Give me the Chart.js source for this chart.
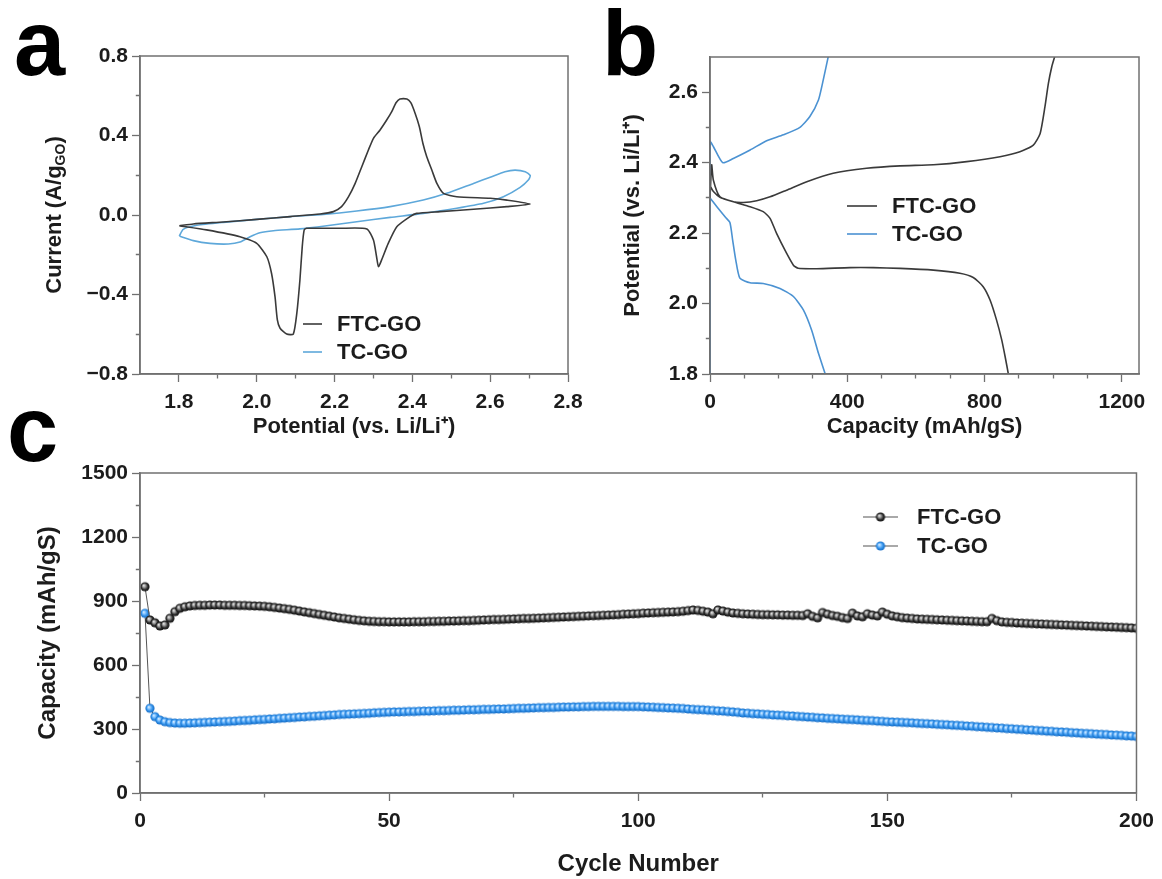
<!DOCTYPE html>
<html>
<head>
<meta charset="utf-8">
<title>FTC-GO vs TC-GO</title>
<script src="https://cdn.jsdelivr.net/npm/chart.js@4.4.1/dist/chart.umd.min.js"></script>
<style>
  html, body { margin:0; padding:0; background:#ffffff; width:1162px; height:879px; overflow:hidden; }
  canvas { position:absolute; }
</style>
</head>
<body>
<canvas id="cvChart" width="600" height="440" style="left:0;top:0;width:600px;height:440px"></canvas>
<canvas id="gcdChart" width="582" height="440" style="left:580px;top:0;width:582px;height:440px"></canvas>
<canvas id="cycChart" width="1162" height="479" style="left:0;top:400px;width:1162px;height:479px"></canvas>
<script>
// ---------------- Panel a: cyclic voltammetry ----------------
const cvFtcPotential = [1.801,1.871,1.957,2.000,2.026,2.038,2.047,2.053,2.060,2.077,2.094,2.103,2.111,2.117,2.122,2.128,2.214,2.283,2.300,2.308,2.313,2.321,2.338,2.360,2.394,2.411,2.471,2.557,2.643,2.703,
  2.643,2.600,2.514,2.480,2.463,2.450,2.437,2.427,2.418,2.407,2.396,2.386,2.368,2.358,2.347,2.334,2.317,2.300,2.287,2.270,2.253,2.236,2.218,2.197,2.163,2.086,2.000,1.914,1.837,1.801];
const cvFtcCurrent = [-0.054,-0.075,-0.109,-0.143,-0.210,-0.293,-0.411,-0.528,-0.570,-0.599,-0.599,-0.495,-0.327,-0.159,-0.075,-0.067,-0.067,-0.070,-0.126,-0.210,-0.260,-0.226,-0.143,-0.059,-0.008,0.008,0.017,0.029,0.042,0.055,
  0.075,0.084,0.092,0.109,0.159,0.226,0.293,0.361,0.444,0.512,0.565,0.584,0.584,0.565,0.520,0.478,0.428,0.386,0.327,0.243,0.159,0.092,0.042,0.017,0.005,-0.008,-0.022,-0.035,-0.045,-0.054];
const cvTcPotential = [1.801,1.837,1.880,1.927,1.957,1.983,2.008,2.043,2.111,2.180,2.257,2.343,2.428,2.514,2.583,2.634,2.677,2.698,2.703,
  2.690,2.664,2.638,2.600,2.557,2.488,2.428,2.343,2.257,2.171,2.086,2.000,1.914,1.846,1.811,1.801];
const cvTcCurrent = [-0.106,-0.129,-0.143,-0.146,-0.136,-0.109,-0.089,-0.079,-0.070,-0.054,-0.034,-0.012,0.008,0.034,0.059,0.092,0.139,0.176,0.198,
  0.218,0.226,0.218,0.190,0.159,0.109,0.075,0.042,0.020,0.003,-0.008,-0.022,-0.037,-0.052,-0.072,-0.106];
const cvXTicks = [1.8,1.9,2.0,2.1,2.2,2.3,2.4,2.5,2.6,2.7,2.8];
const cvXMajor = [1.8,2.0,2.2,2.4,2.6,2.8];
const cvXLabels = ['1.8','2.0','2.2','2.4','2.6','2.8'];
const cvYTicks = [-0.8,-0.6,-0.4,-0.2,0,0.2,0.4,0.6,0.8];
const cvYMajor = [-0.8,-0.4,0,0.4,0.8];
const cvYLabels = ['\u22120.8','\u22120.4','0.0','0.4','0.8'];

// ---------------- Panel b: charge / discharge profiles ----------------
const gcdFtcChargeCap = [0,4.9,9.7,29,68,97,136,175,223,282,359,456,554,651,748,845,903,942,962,976,986,996,1005];
const gcdFtcChargeV   = [2.300,2.394,2.351,2.303,2.289,2.287,2.292,2.303,2.322,2.346,2.370,2.384,2.391,2.394,2.403,2.417,2.431,2.450,2.483,2.559,2.625,2.673,2.703];
const gcdFtcDischargeCap = [0,10,29,68,117,155,175,194,223,243,257,311,408,476,554,651,728,767,796,816,835,850,860,869];
const gcdFtcDischargeV   = [2.335,2.318,2.302,2.289,2.275,2.261,2.242,2.199,2.143,2.109,2.100,2.099,2.102,2.102,2.100,2.095,2.086,2.074,2.048,2.010,1.953,1.897,1.849,1.802];
const gcdTcChargeCap = [0,0,9.7,37,68,117,165,214,262,291,316,330,345];
const gcdTcChargeV   = [1.800,2.460,2.446,2.400,2.412,2.436,2.462,2.479,2.500,2.531,2.578,2.635,2.703];
const gcdTcDischargeCap = [0,20,45,58,66,75,87,117,155,204,243,272,296,316,335];
const gcdTcDischargeV   = [2.300,2.275,2.245,2.230,2.180,2.124,2.072,2.059,2.057,2.043,2.020,1.982,1.925,1.859,1.802];
const gcdXTicks = [0,100,200,300,400,500,600,700,800,900,1000,1100,1200];
const gcdXMajor = [0,400,800,1200];
const gcdXLabels = ['0','400','800','1200'];
const gcdYTicks = [1.8,1.9,2.0,2.1,2.2,2.3,2.4,2.5,2.6];
const gcdYMajor = [1.8,2.0,2.2,2.4,2.6];
const gcdYLabels = ['1.8','2.0','2.2','2.4','2.6'];

// ---------------- Panel c: cycling ----------------
const cycleFtcCapacity = [
  967,811,798,783,788,819,850,866,873,877,
  879,880,880,881,881,881,880,880,880,879,
  879,878,877,876,875,873,870,867,864,861,
  857,853,849,845,841,837,833,829,825,821,
  818,815,812,809,807,805,804,803,803,802,
  802,802,802,802,803,803,803,804,804,805,
  805,806,806,807,808,808,809,810,811,812,
  813,813,814,815,816,817,818,818,819,820,
  821,822,823,824,825,826,827,828,829,830,
  831,832,833,834,835,836,838,839,840,841,
  843,844,845,846,847,848,849,850,852,855,
  858,856,852,848,840,858,853,848,844,842,
  840,839,838,837,836,836,835,835,834,834,
  833,833,832,840,828,821,846,838,832,828,
  822,818,843,830,826,840,834,830,848,838,
  830,826,822,820,818,816,815,814,813,812,
  811,810,809,808,807,806,805,804,803,803,
  818,808,802,800,799,797,796,795,794,793,
  792,791,790,789,788,787,786,785,784,783,
  782,781,780,779,778,777,776,775,774,772];
const cycleTcCapacity = [
  842,397,358,342,334,330,328,327,327,328,
  329,330,331,332,333,334,335,336,337,339,
  340,341,343,344,345,347,348,350,351,353,
  354,356,357,359,360,362,363,365,366,368,
  369,370,371,372,373,374,376,377,378,379,
  380,380,381,382,382,383,384,384,385,386,
  386,387,388,388,389,390,390,391,392,392,
  393,394,394,395,396,397,397,398,399,400,
  400,401,401,402,403,403,404,404,405,405,
  406,406,406,406,406,406,405,405,405,405,
  404,403,402,401,400,399,398,397,396,394,
  392,391,390,388,387,385,384,382,380,378,
  375,374,372,371,369,368,366,365,364,362,
  361,359,358,356,355,353,352,350,349,348,
  346,345,344,343,341,340,339,337,336,334,
  333,332,331,330,329,327,326,325,324,322,
  321,320,318,317,316,314,313,311,310,308,
  307,305,304,302,301,299,298,296,295,293,
  292,290,289,287,286,285,283,282,280,279,
  278,276,275,274,272,271,270,268,267,265];
const cycleNumbers = cycleFtcCapacity.map((_, i) => i + 1);
const cycXTicks = [0,25,50,75,100,125,150,175,200];
const cycXMajor = [0,50,100,150,200];
const cycXLabels = ['0','50','100','150','200'];
const cycYTicks = [0,150,300,450,600,750,900,1050,1200,1350,1500];
const cycYMajor = [0,300,600,900,1200,1500];
const cycYLabels = ['0','300','600','900','1200','1500'];

const seriesNames = ['FTC-GO', 'TC-GO'];

// ---------------- helpers ----------------
const FONT = '"Liberation Sans", Arial, Helvetica, sans-serif';
const TXT = '#1c1c1c';
const AXIS = '#707070';
Chart.defaults.font.family = FONT;
Chart.defaults.font.weight = 'bold';
Chart.defaults.color = TXT;
Chart.defaults.animation = false;

function pts(xs, ys) { return xs.map((x, i) => ({x: x, y: ys[i]})); }
function isMajor(majors, v) { return majors.findIndex(m => Math.abs(m - v) < 1e-6); }

function makeScale(o) {
  return {
    type: 'linear', position: o.pos, min: o.min, max: o.max,
    afterBuildTicks: s => { s.ticks = o.ticks.map(v => ({value: v})); },
    afterFit: s => { if (o.pos === 'left') s.width = o.size; else s.height = o.size; },
    ticks: {
      autoSkip: false, maxRotation: 0, minRotation: 0, color: TXT,
      font: {size: 21, weight: 'bold'}, padding: o.pos === 'left' ? 4 : 8,
      callback: v => { const i = isMajor(o.majors, v); return i >= 0 ? o.labels[i] : ''; }
    },
    grid: {
      drawOnChartArea: false, drawTicks: true, tickLength: 8, tickColor: AXIS, tickWidth: 1.3,
      tickBorderDash: c => (c.tick && isMajor(o.majors, c.tick.value) >= 0) ? [] : (o.pos === 'left' ? [0, 3.8, 4, 40] : [4, 40])
    },
    border: {display: true, color: AXIS, width: 1.5},
    title: o.title ? {display: true, text: o.title, color: TXT, font: {size: o.titleSize, weight: 'bold'}, padding: o.titlePad} : {display: false}
  };
}

function sphere(r, stops) {
  const c = document.createElement('canvas');
  const s = Math.ceil(2 * r + 2);
  c.width = s; c.height = s;
  const g = c.getContext('2d');
  const cx = s / 2, cy = s / 2;
  const grad = g.createRadialGradient(cx - r * 0.3, cy - r * 0.3, 0, cx, cy, r);
  stops.forEach(([p, col]) => grad.addColorStop(p, col));
  g.fillStyle = grad;
  g.beginPath(); g.arc(cx, cy, r, 0, Math.PI * 2); g.fill();
  return c;
}
const blackBall = sphere(4.6, [[0, '#f2f2f2'], [0.35, '#9a9a9a'], [0.7, '#2e2e2e'], [1, '#0d0d0d']]);
const blueBall  = sphere(4.6, [[0, '#eaf5ff'], [0.35, '#80c2ff'], [0.7, '#2b8ce6'], [1, '#176bc2']]);

const decor = {
  id: 'decor',
  afterDraw(chart, args, o) {
    const ctx = chart.ctx, ca = chart.chartArea;
    ctx.save();
    ctx.strokeStyle = AXIS; ctx.lineWidth = 1.5;
    ctx.strokeRect(ca.left, ca.top, ca.right - ca.left, ca.bottom - ca.top);
    if (o.letter) {
      ctx.font = 'bold ' + o.letter.size + 'px ' + FONT;
      ctx.fillStyle = '#000'; ctx.textAlign = 'left'; ctx.textBaseline = 'alphabetic';
      ctx.fillText(o.letter.text, o.letter.x, o.letter.y);
    }
    if (o.legend) {
      const L = o.legend;
      chart.data.datasets.forEach((ds, i) => {
        const y = L.rows[i];
        ctx.strokeStyle = ds.borderColor;
        ctx.lineWidth = L.marker ? 1.2 : ds.borderWidth;
        ctx.beginPath(); ctx.moveTo(L.x1, y); ctx.lineTo(L.x2, y); ctx.stroke();
        if (L.marker) {
          const img = ds.pointStyle;
          ctx.drawImage(img, (L.x1 + L.x2) / 2 - img.width / 2, y - img.height / 2);
        }
        ctx.font = 'bold ' + L.size + 'px ' + FONT;
        ctx.fillStyle = TXT; ctx.textAlign = 'left'; ctx.textBaseline = 'middle';
        ctx.fillText(ds.label, L.textX, y + 1);
      });
    }
    if (o.subTitle) {
      const T = o.subTitle;
      ctx.translate(T.x, T.y); ctx.rotate(-Math.PI / 2);
      ctx.fillStyle = TXT; ctx.textBaseline = 'middle'; ctx.textAlign = 'left';
      let total = 0;
      T.parts.forEach(p => { ctx.font = 'bold ' + p[1] + 'px ' + FONT; total += ctx.measureText(p[0]).width; });
      let x = -total / 2;
      T.parts.forEach(p => {
        ctx.font = 'bold ' + p[1] + 'px ' + FONT;
        ctx.fillText(p[0], x, p[2]);
        x += ctx.measureText(p[0]).width;
      });
    }
    ctx.restore();
  }
};

const common = {
  responsive: false, animation: false, events: [],
  plugins: {legend: {display: false}, tooltip: {enabled: false}}
};

// ---------------- Chart a ----------------
new Chart(document.getElementById('cvChart'), {
  type: 'line',
  data: {datasets: [
    {label: seriesNames[0], data: pts(cvFtcPotential, cvFtcCurrent), borderColor: '#3a3a3a', borderWidth: 1.6, pointRadius: 0, tension: 0.2, fill: false},
    {label: seriesNames[1], data: pts(cvTcPotential, cvTcCurrent), borderColor: '#5ea8da', borderWidth: 1.6, pointRadius: 0, tension: 0.2, fill: false}
  ]},
  options: Object.assign({}, common, {
    layout: {padding: {left: 20, top: 56, right: 32, bottom: 0}},
    scales: {
      x: makeScale({pos: 'bottom', min: 1.7, max: 2.8, ticks: cvXTicks, majors: cvXMajor, labels: cvXLabels, size: 66,
        title: 'Potential (vs. Li/Li\u207A)', titleSize: 22, titlePad: {top: 0, bottom: 0}}),
      y: makeScale({pos: 'left', min: -0.8, max: 0.8, ticks: cvYTicks, majors: cvYMajor, labels: cvYLabels, size: 120})
    },
    plugins: Object.assign({}, common.plugins, {decor: {
      letter: {text: 'a', x: 14, y: 75, size: 92},
      legend: {rows: [324, 352], x1: 303, x2: 322, textX: 337, size: 22},
      subTitle: {x: 55, y: 215, parts: [['Current (A/g', 22, 0], ['GO', 14, 6], [')', 22, 0]]}
    }})
  }),
  plugins: [decor]
});

// ---------------- Chart b ----------------
const gap = {x: 0, y: null};
new Chart(document.getElementById('gcdChart'), {
  type: 'line',
  data: {datasets: [
    {label: seriesNames[0], data: pts(gcdFtcChargeCap, gcdFtcChargeV).concat([gap], pts(gcdFtcDischargeCap, gcdFtcDischargeV)),
      borderColor: '#3a3a3a', borderWidth: 1.6, pointRadius: 0, tension: 0.2, spanGaps: false, fill: false},
    {label: seriesNames[1], data: pts(gcdTcChargeCap, gcdTcChargeV).concat([gap], pts(gcdTcDischargeCap, gcdTcDischargeV)),
      borderColor: '#4b92d2', borderWidth: 1.6, pointRadius: 0, tension: 0.2, spanGaps: false, fill: false}
  ]},
  options: Object.assign({}, common, {
    layout: {padding: {left: 20, top: 57, right: 23, bottom: 0}},
    scales: {
      x: makeScale({pos: 'bottom', min: 0, max: 1250, ticks: gcdXTicks, majors: gcdXMajor, labels: gcdXLabels, size: 66,
        title: 'Capacity (mAh/gS)', titleSize: 22, titlePad: {top: 0, bottom: 0}}),
      y: makeScale({pos: 'left', min: 1.8, max: 2.7, ticks: gcdYTicks, majors: gcdYMajor, labels: gcdYLabels, size: 110,
        title: 'Potential (vs. Li/Li\u207A)', titleSize: 22, titlePad: {top: 20, bottom: 0}})
    },
    plugins: Object.assign({}, common.plugins, {decor: {
      letter: {text: 'b', x: 22, y: 75, size: 92},
      legend: {rows: [206, 234], x1: 267, x2: 297, textX: 312, size: 22}
    }})
  }),
  plugins: [decor]
});

// ---------------- Chart c ----------------
new Chart(document.getElementById('cycChart'), {
  type: 'line',
  data: {datasets: [
    {label: seriesNames[0], data: pts(cycleNumbers, cycleFtcCapacity), borderColor: '#555555', borderWidth: 1,
      pointStyle: blackBall, pointRadius: 4.6, tension: 0, fill: false},
    {label: seriesNames[1], data: pts(cycleNumbers, cycleTcCapacity), borderColor: '#555555', borderWidth: 1,
      pointStyle: blueBall, pointRadius: 4.6, tension: 0, fill: false}
  ]},
  options: Object.assign({}, common, {
    layout: {padding: {left: 20, top: 73, right: 23, bottom: 0}},
    scales: {
      x: makeScale({pos: 'bottom', min: 0, max: 200, ticks: cycXTicks, majors: cycXMajor, labels: cycXLabels, size: 86,
        title: 'Cycle Number', titleSize: 24, titlePad: {top: 0, bottom: 0}}),
      y: makeScale({pos: 'left', min: 0, max: 1500, ticks: cycYTicks, majors: cycYMajor, labels: cycYLabels, size: 120,
        title: 'Capacity (mAh/gS)', titleSize: 24, titlePad: {top: 13.6, bottom: 0}})
    },
    plugins: Object.assign({}, common.plugins, {decor: {
      letter: {text: 'c', x: 7, y: 61, size: 92},
      legend: {rows: [117, 146], x1: 863, x2: 898, textX: 917, size: 22, marker: true}
    }})
  }),
  plugins: [decor]
});
</script>
</body>
</html>
